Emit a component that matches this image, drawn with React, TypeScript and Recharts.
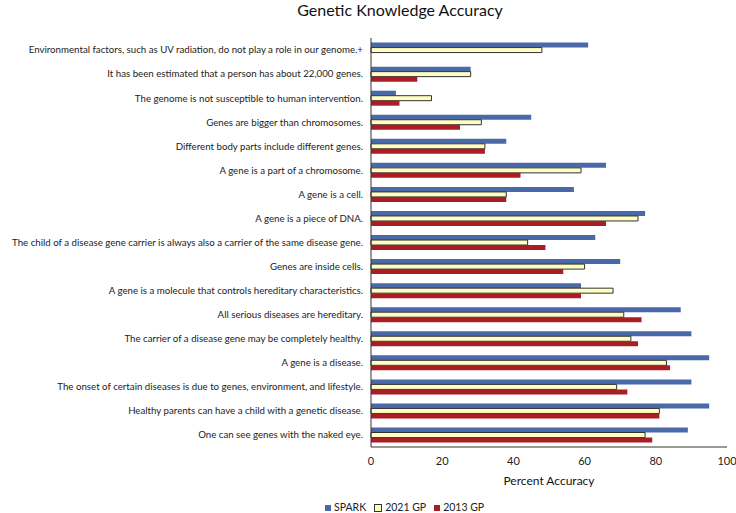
import React from "react";
import { BarChart, Bar, XAxis, YAxis, Legend } from "recharts";

const questions = [
  "Environmental factors, such as UV radiation, do not play a role in our genome.+",
  "It has been estimated that a person has about 22,000 genes.",
  "The genome is not susceptible to human intervention.",
  "Genes are bigger than chromosomes.",
  "Different body parts include different genes.",
  "A gene is a part of a chromosome.",
  "A gene is a cell.",
  "A gene is a piece of DNA.",
  "The child of a disease gene carrier is always also a carrier of the same disease gene.",
  "Genes are inside cells.",
  "A gene is a molecule that controls hereditary characteristics.",
  "All serious diseases are hereditary.",
  "The carrier of a disease gene may be completely healthy.",
  "A gene is a disease.",
  "The onset of certain diseases is due to genes, environment, and lifestyle.",
  "Healthy parents can have a child with a genetic disease.",
  "One can see genes with the naked eye.",
];

const spark = [61, 28, 7, 45, 38, 66, 57, 77, 63, 70, 59, 87, 90, 95, 90, 95, 89];
const gp2021 = [48, 28, 17, 31, 32, 59, 38, 75, 44, 60, 68, 71, 73, 83, 69, 81, 77];
const gp2013 = [null, 13, 8, 25, 32, 42, 38, 66, 49, 54, 59, 76, 75, 84, 72, 81, 79];

const xTicks = [0, 20, 40, 60, 80, 100];

const series = [
  { key: "spark", name: "SPARK", fill: "#4a69a8", stroke: "none" },
  { key: "gp2021", name: "2021 GP", fill: "#ffffc2", stroke: "#333333" },
  { key: "gp2013", name: "2013 GP", fill: "#a91e25", stroke: "none" },
];

const data = questions.map((q, i) => ({
  question: q,
  spark: spark[i],
  gp2021: gp2021[i],
  gp2013: gp2013[i],
}));

const FONT = "Lato, 'Open Sans', sans-serif";

// single-line labels, no wrapping
function QuestionTick(props: any) {
  const { x, y, payload } = props;
  return (
    <text x={x} y={y} dy="0.35em" textAnchor="end" fill="#222" fontSize={9.7} fontFamily={FONT}>
      {payload.value}
    </text>
  );
}

function LegendContent() {
  return (
    <div
      style={{
        display: "flex",
        paddingLeft: 325,
        paddingTop: 9,
        height: 20,
        boxSizing: "border-box",
        fontFamily: FONT,
        fontSize: 10.5,
        lineHeight: "11px",
        color: "#222",
      }}
    >
      {series.map((s) => (
        <div key={s.key} style={{ display: "flex", alignItems: "center", marginRight: 8 }}>
          <span
            style={{
              display: "inline-block",
              width: 6,
              height: 6,
              background: s.fill,
              border: s.stroke === "none" ? "none" : `1px solid ${s.stroke}`,
              marginRight: 3,
            }}
          />
          <span>{s.name}</span>
        </div>
      ))}
    </div>
  );
}

export default function App() {
  return (
    <div
      style={{
        position: "absolute",
        left: 0,
        top: 0,
        width: 736,
        height: 513,
        background: "#fff",
        fontFamily: FONT,
      }}
    >
      <div
        style={{
          position: "absolute",
          left: 0,
          width: 800,
          top: 0,
          textAlign: "center",
          fontSize: 16,
          lineHeight: "20px",
          color: "#111",
        }}
      >
        Genetic Knowledge Accuracy
      </div>
      <BarChart
        width={736}
        height={513}
        data={data}
        layout="vertical"
        margin={{ top: 38, right: 9, bottom: 0, left: 0 }}
        barCategoryGap="19%"
        barGap={0}
      >
        <XAxis
          type="number"
          domain={[0, 100]}
          ticks={xTicks}
          height={46}
          tickLine={false}
          tickMargin={4}
          stroke="#333"
          tick={{ fill: "#222", fontSize: 11, fontFamily: FONT }}
          label={{
            value: "Percent Accuracy",
            position: "insideBottom",
            offset: 8,
            fill: "#111",
            fontSize: 12,
            fontFamily: FONT,
          }}
        />
        <YAxis
          type="category"
          dataKey="question"
          width={371}
          tickLine={false}
          stroke="#333"
          interval={0}
          tick={<QuestionTick />}
        />
        <Legend verticalAlign="bottom" align="left" height={20} content={() => <LegendContent />} />
        {series.map((s) => (
          <Bar
            key={s.key}
            dataKey={s.key}
            name={s.name}
            fill={s.fill}
            stroke={s.stroke}
            strokeWidth={1}
            isAnimationActive={false}
          />
        ))}
      </BarChart>
    </div>
  );
}
